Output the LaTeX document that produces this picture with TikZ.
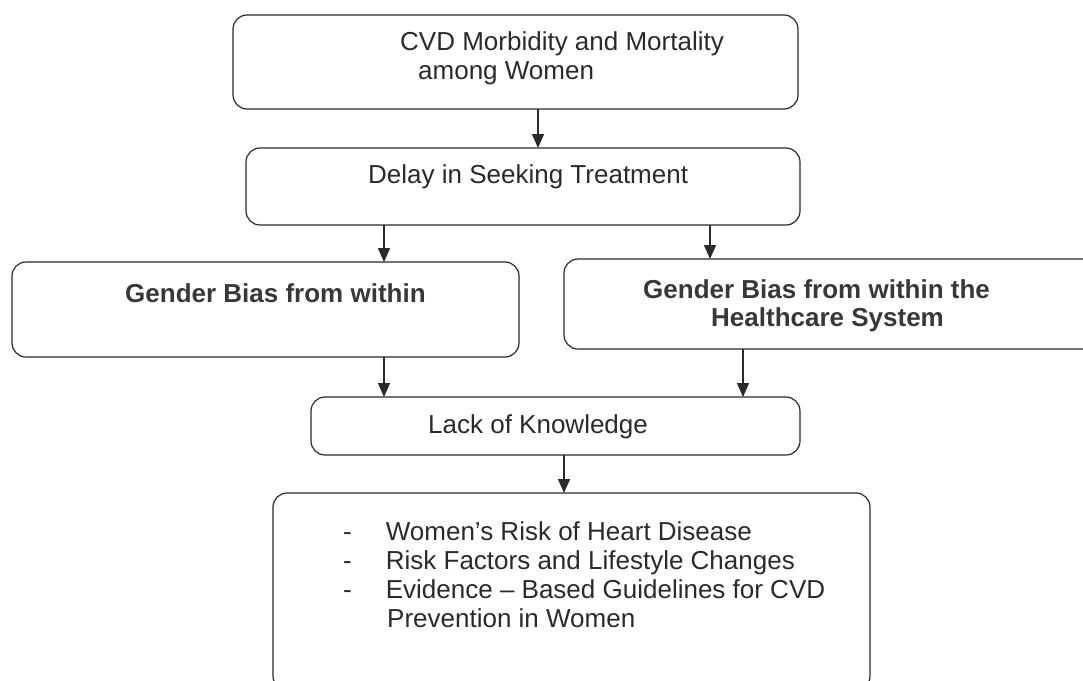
\documentclass[tikz,border=0pt]{standalone}
\usepackage{fontspec}
\setmainfont{Liberation Sans}
\usetikzlibrary{arrows.meta}
\definecolor{ink}{HTML}{2A2A2A}
\definecolor{boldink}{HTML}{383838}
\begin{document}
\begin{tikzpicture}[x=1pt,y=-1pt,
  box/.style={draw=ink, line width=1.2pt, rounded corners=14pt},
  txt/.style={anchor=west, inner sep=0pt, text=ink, font=\fontsize{26}{29}\selectfont, align=left},
  btxt/.style={anchor=west, inner sep=0pt, text=boldink, font=\fontsize{26}{28}\selectfont\bfseries, align=left},
  arr/.style={draw=ink, line width=1.4pt, -{Triangle[length=14pt,width=12pt]}}]
\useasboundingbox (0,0) rectangle (1083,680);
% boxes
\draw[box] (233,15) rectangle (798,109);
\draw[box] (246,148) rectangle (800,225);
\draw[box] (12,262) rectangle (519,357);
\draw[box] (564,259) rectangle (1100,349);
\draw[box] (311,397) rectangle (800,455);
\draw[box] (273,493) rectangle (870,690);
% texts
\node[txt] (t1) at (400,58) {CVD Morbidity and Mortality\\\hspace{18pt}among Women};
\node[txt] (t2) at (368,177) {Delay in Seeking Treatment};
\node[btxt] (t3) at (125,293) {Gender Bias from within};
\node[btxt] (t4) at (643,306) {Gender Bias from within the\\\hspace{68pt}Healthcare System};
\node[txt] (t5) at (428,427) {Lack of Knowledge};
\node[txt] (t6) at (343,575) {-\hspace{34pt}Women’s Risk of Heart Disease\\
-\hspace{34pt}Risk Factors and Lifestyle Changes\\
-\hspace{34pt}Evidence -- Based Guidelines for CVD\\
\hspace{44pt}Prevention in Women};
% arrows
\coordinate (a1s) at (538,109); \coordinate (a1e) at (538,148);
\coordinate (a2s) at (384,225); \coordinate (a2e) at (384,262);
\coordinate (a3s) at (710,225); \coordinate (a3e) at (710,259);
\coordinate (a4s) at (384,357); \coordinate (a4e) at (384,397);
\coordinate (a5s) at (743,349); \coordinate (a5e) at (743,397);
\coordinate (a6s) at (564,455); \coordinate (a6e) at (564,493);
\draw[arr] (a1s) -- (a1e);
\draw[arr] (a2s) -- (a2e);
\draw[arr] (a3s) -- (a3e);
\draw[arr] (a4s) -- (a4e);
\draw[arr] (a5s) -- (a5e);
\draw[arr] (a6s) -- (a6e);
\end{tikzpicture}
\end{document}
